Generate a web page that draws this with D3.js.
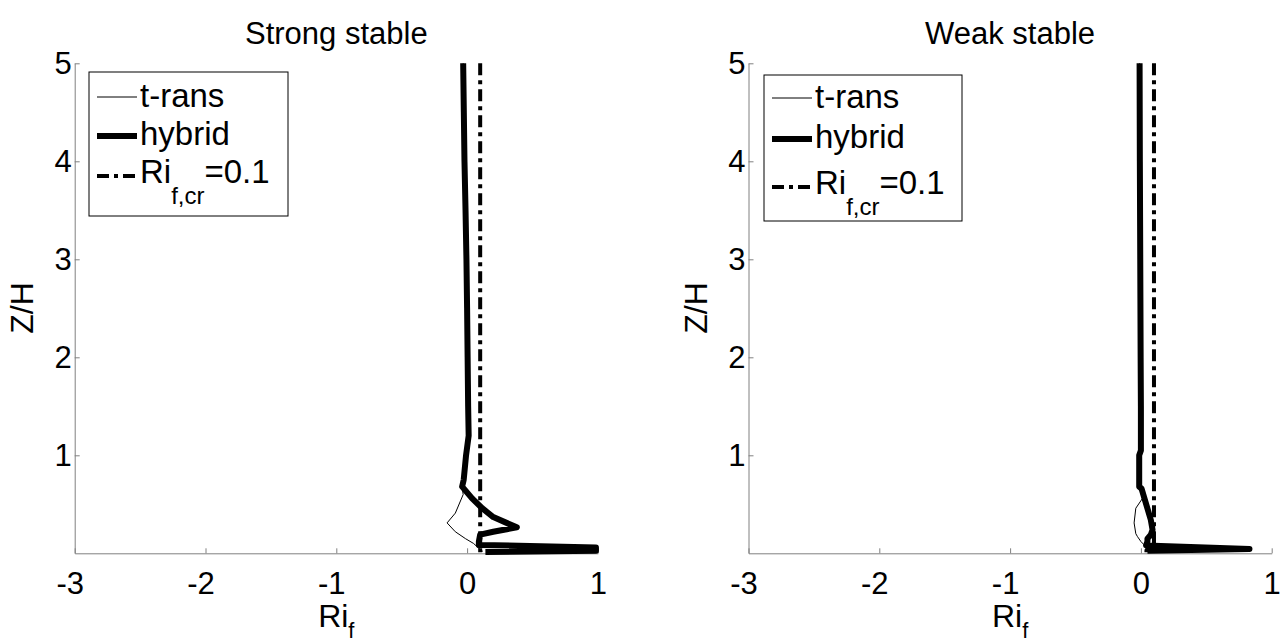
<!DOCTYPE html>
<html>
<head>
<meta charset="utf-8">
<script src="https://cdn.jsdelivr.net/npm/d3@7"></script>
<style>
  body { margin: 0; background: #fff; }
  svg text { font-family: Arial, "Liberation Sans", Helvetica, sans-serif; fill: #000; }
</style>
</head>
<body>
<svg id="chart" width="1288" height="642"></svg>
<script>
// axis ticks and labels
var xTicks = [-3, -2, -1, 0, 1];
var yTicks = [1, 2, 3, 4, 5];
var riCritical = 0.1;
var panelTitles = ['Strong stable', 'Weak stable'];
var legendLabels = ['t-rans', 'hybrid'];

// Strong stable: hybrid profile (Z/H from top to bottom)
var strongHybridZ  = [5.0, 4.5, 4.0, 3.5, 3.0, 2.5, 2.0, 1.5, 1.2, 1.0, 0.75, 0.68, 0.56, 0.46, 0.37, 0.265, 0.22, 0.19, 0.12, 0.085, 0.06, 0.025, 0.012];
var strongHybridRi = [-0.03, -0.025, -0.02, -0.012, -0.005, 0.0, 0.004, 0.008, 0.012, -0.008, -0.026, -0.038, 0.038, 0.115, 0.2, 0.38, 0.2, 0.1, 0.09, 0.09, 0.985, 0.985, 0.14];

// Strong stable: t-rans profile
var strongTransZ  = [5.0, 4.0, 3.0, 2.0, 1.5, 1.2, 1.0, 0.75, 0.68, 0.6, 0.41, 0.31, 0.22, 0.15, 0.1, 0.05, 0.02];
var strongTransRi = [-0.03, -0.02, -0.005, 0.004, 0.008, 0.012, -0.008, -0.026, -0.038, -0.03, -0.09, -0.153, -0.09, -0.013, 0.05, 0.09, 0.12];

// Weak stable: hybrid profile
var weakHybridZ  = [5.0, 4.0, 3.0, 2.0, 1.5, 1.05, 1.0, 0.68, 0.66, 0.34, 0.24, 0.19, 0.15, 0.12, 0.08, 0.045, 0.025, 0.01];
var weakHybridRi = [-0.01, -0.008, -0.005, -0.002, 0.0, 0.0, -0.013, -0.013, 0.005, 0.076, 0.089, 0.076, 0.05, 0.05, 0.04, 0.83, 0.05, 0.05];

// Weak stable: t-rans profile
var weakTransZ  = [5.0, 4.0, 3.0, 2.0, 1.5, 1.05, 1.0, 0.68, 0.56, 0.46, 0.31, 0.2, 0.17, 0.12, 0.07, 0.04];
var weakTransRi = [-0.01, -0.008, -0.005, -0.002, 0.0, 0.0, -0.013, -0.013, 0.012, -0.039, -0.052, -0.039, -0.026, 0.0, 0.037, 0.08];

function zip(ri, z) {
  return ri.map(function(d, i) { return [d, z[i]]; });
}

var panels = [
  { title: panelTitles[0], left: 74.7, right: 597.9,
    hybrid: zip(strongHybridRi, strongHybridZ), trans: zip(strongTransRi, strongTransZ),
    legend: { x: 89, y: 72, w: 199, h: 144, rows: [97, 136, 176] } },
  { title: panelTitles[1], left: 748.5, right: 1271.7,
    hybrid: zip(weakHybridRi, weakHybridZ), trans: zip(weakTransRi, weakTransZ),
    legend: { x: 764, y: 75, w: 198, h: 146, rows: [98, 139, 187] } }
];

var svg = d3.select('#chart');
var plotTop = 63.3, plotBottom = 553.3;
var axisColor = '#808080';

panels.forEach(function(p) {
  var x = d3.scaleLinear().domain([-3, 1]).range([p.left, p.right]);
  var y = d3.scaleLinear().domain([0, 5]).range([plotBottom, plotTop]);
  var g = svg.append('g');

  // axes, ticks pointing inward
  var xa = g.append('g')
    .attr('transform', 'translate(0,' + plotBottom + ')')
    .call(d3.axisBottom(x).tickValues(xTicks).tickFormat(function(d) { return String(d); })
      .tickSizeInner(-5).tickSizeOuter(0).tickPadding(19));
  xa.selectAll('text').attr('font-size', 31)
    .attr('dx', function(d) { return d < 0 ? -5 : 0; });

  var ya = g.append('g')
    .attr('transform', 'translate(' + p.left + ',0)')
    .call(d3.axisLeft(y).tickValues(yTicks).tickFormat(function(d) { return String(d); })
      .tickSizeInner(-5).tickSizeOuter(0).tickPadding(3));
  ya.selectAll('text').attr('font-size', 31);

  g.selectAll('.domain, .tick line').attr('stroke', axisColor);
  g.selectAll('.tick text').style('font-family', 'Arial, "Liberation Sans", sans-serif').attr('fill', '#000');

  var line = d3.line()
    .x(function(d) { return x(d[0]); })
    .y(function(d) { return y(d[1]); });

  g.append('path').datum(p.trans)
    .attr('d', line).attr('fill', 'none').attr('stroke', '#000').attr('stroke-width', 1);

  g.append('path').datum(p.hybrid)
    .attr('d', line).attr('fill', 'none').attr('stroke', '#000')
    .attr('stroke-width', 6).attr('stroke-linejoin', 'round');

  g.append('line')
    .attr('x1', x(riCritical)).attr('x2', x(riCritical))
    .attr('y1', y(5)).attr('y2', y(0))
    .attr('stroke', '#000').attr('stroke-width', 4)
    .attr('stroke-dasharray', '12,5,4,5');

  // title and axis labels
  var cx = (p.left + p.right) / 2;
  g.append('text').attr('x', cx).attr('y', 44)
    .attr('text-anchor', 'middle').attr('font-size', 31).text(p.title);

  var xl = g.append('text').attr('x', cx).attr('y', 627)
    .attr('text-anchor', 'middle').attr('font-size', 32);
  xl.append('tspan').text('Ri');
  xl.append('tspan').attr('font-size', 22).attr('dy', 11).text('f');

  g.append('text')
    .attr('transform', 'translate(' + (p.left - 42) + ',308) rotate(-90)')
    .attr('text-anchor', 'middle').attr('font-size', 32).text('Z/H');

  // legend
  var L = p.legend;
  var lg = g.append('g');
  lg.append('rect').attr('x', L.x).attr('y', L.y).attr('width', L.w).attr('height', L.h)
    .attr('fill', '#fff').attr('stroke', '#000').attr('stroke-width', 1);

  var sx0 = L.x + 8, sx1 = L.x + 48, tx = L.x + 51;
  lg.append('line').attr('x1', sx0).attr('x2', sx1).attr('y1', L.rows[0]).attr('y2', L.rows[0])
    .attr('stroke', '#000').attr('stroke-width', 1);
  lg.append('line').attr('x1', sx0).attr('x2', sx1).attr('y1', L.rows[1]).attr('y2', L.rows[1])
    .attr('stroke', '#000').attr('stroke-width', 6);
  lg.append('line').attr('x1', sx0).attr('x2', sx1).attr('y1', L.rows[2]).attr('y2', L.rows[2])
    .attr('stroke', '#000').attr('stroke-width', 4).attr('stroke-dasharray', '12,5,4,5');

  lg.append('text').attr('x', tx).attr('y', L.rows[0] + 10).attr('font-size', 33).text(legendLabels[0]);
  lg.append('text').attr('x', tx).attr('y', L.rows[1] + 9).attr('font-size', 33).text(legendLabels[1]);
  var rt = lg.append('text').attr('x', tx).attr('y', L.rows[2] + 7).attr('font-size', 33);
  rt.append('tspan').text('Ri');
  rt.append('tspan').attr('font-size', 24).attr('dy', 21).text('f,cr');
  rt.append('tspan').attr('dy', -21).text('=' + riCritical);
});
</script>
</body>
</html>
